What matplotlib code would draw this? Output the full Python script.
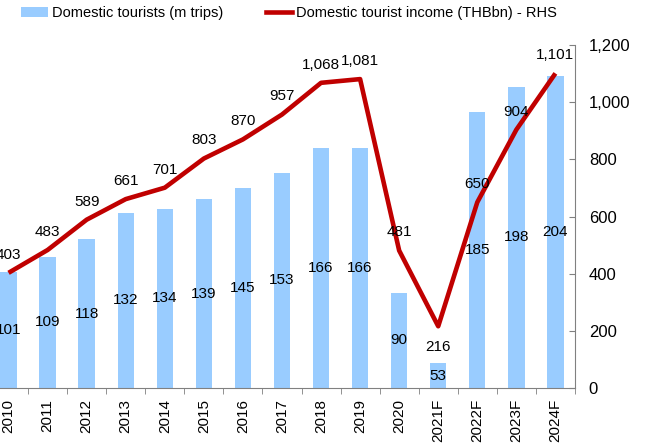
import numpy as np
import matplotlib.pyplot as plt
from matplotlib.lines import Line2D
from matplotlib.patches import Patch

# Data
years = ['2010', '2011', '2012', '2013', '2014', '2015', '2016', '2017',
         '2018', '2019', '2020', '2021F', '2022F', '2023F', '2024F']
tourists = [101, 109, 118, 132, 134, 139, 145, 153, 166, 166, 90, 53, 185, 198, 204]
income = [403, 483, 589, 661, 701, 803, 870, 957, 1068, 1081, 481, 216, 650, 904, 1101]

plt.rcParams['font.family'] = ['Liberation Sans', 'DejaVu Sans']
bar_color = '#99CCFF'
line_color = '#C00000'
axis_color = '#808080'

fig = plt.figure(figsize=(6.46, 4.43), dpi=100)
ax = fig.add_axes([-0.017, 0.1242, 0.907, 0.774])
ax2 = ax.twinx()

x = np.arange(len(years))
left_min, left_max = 40, 220

# bars on the (hidden) left axis
ax.bar(x, tourists, width=0.42, color=bar_color, zorder=1)
ax.set_ylim(left_min, left_max)
ax.set_xlim(-0.5, len(years) - 0.5)
for xi, v in zip(x, tourists):
    ax.text(xi, (left_min + v) / 2, str(v), ha='center', va='center', fontsize=11, zorder=3)

# income line on the right axis
ax2.plot(x, income, color=line_color, linewidth=3.3, solid_capstyle='butt', zorder=4)
ax2.set_ylim(0, 1200)
ax2.set_yticks(range(0, 1201, 200))
ax2.set_yticklabels([f'{v:,}' for v in range(0, 1201, 200)], fontsize=12)
for xi, v in zip(x, income):
    dy = -15 if v == 216 else 13
    ax2.annotate(f'{v:,}', (xi, v), xytext=(0, dy), textcoords='offset points',
                 ha='center', va='center', fontsize=11, zorder=5)

# axes styling
for a in (ax, ax2):
    for s in ('top', 'left'):
        a.spines[s].set_visible(False)
    a.spines['bottom'].set_color(axis_color)
    a.spines['right'].set_color(axis_color)
ax.spines['right'].set_visible(False)
ax2.spines['bottom'].set_visible(False)
ax.tick_params(axis='y', left=False, labelleft=False)
ax2.tick_params(axis='y', direction='in', length=4, color=axis_color, pad=10)

ax.set_xticks(x)
ax.set_xticklabels(years, rotation=90, fontsize=11)
ax.set_xticks(np.arange(-0.5, len(years), 1), minor=True)
ax.tick_params(axis='x', which='major', length=0, pad=8)
ax.tick_params(axis='x', which='minor', length=4, color=axis_color, direction='out')

# legend
handles = [Patch(facecolor=bar_color, edgecolor='none'),
           Line2D([0], [0], color=line_color, linewidth=3.3)]
labels = ['Domestic tourists (m trips)', 'Domestic tourist income (THBbn) - RHS']
fig.legend(handles, labels, loc='upper left', bbox_to_anchor=(17 / 646, 0.996),
           ncol=2, frameon=False, fontsize=10.5, handlelength=1.8, handletextpad=0.3,
           columnspacing=2.9, borderpad=0.3, borderaxespad=0)

fig.savefig('out.png', dpi=100)
